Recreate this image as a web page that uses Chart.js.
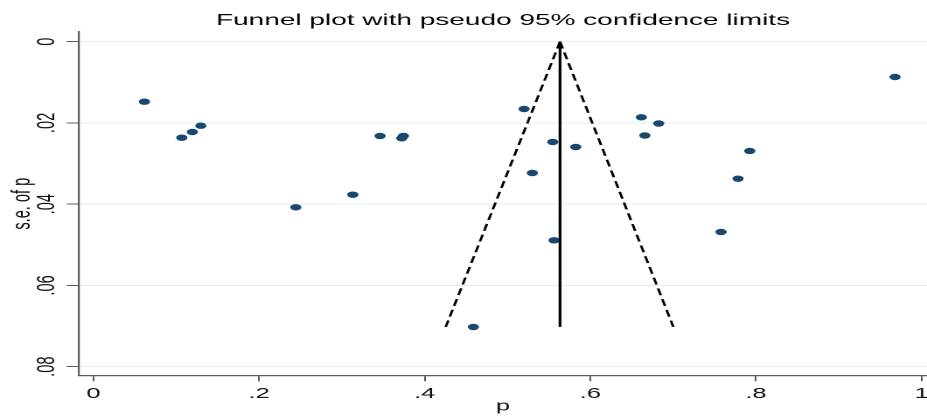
<!DOCTYPE html>
<html>
<head>
<meta charset="utf-8">
<title>Funnel plot</title>
<script src="https://cdn.jsdelivr.net/npm/chart.js@4"></script>
<style>
    html, body { margin: 0; padding: 0; background: #ffffff; overflow: hidden; }
</style>
</head>
<body>
<!-- the reference is a horizontally stretched Stata graph, so the canvas is drawn narrow and stretched -->
<canvas id="funnel" width="530" height="419" style="width:927px;height:419px"></canvas>
<script>
// study estimates
const studyP = [0.0616, 0.1067, 0.1195, 0.1297, 0.2444, 0.3132, 0.3461, 0.3723, 0.3743, 0.5200, 0.5546,
    0.5300, 0.5824, 0.5562, 0.4588, 0.6616, 0.6826, 0.6658, 0.7925, 0.7783, 0.7578, 0.9679];
const studySE = [0.01477, 0.02363, 0.02223, 0.02068, 0.04076, 0.03766, 0.02321, 0.02378, 0.02321, 0.01657, 0.02469,
    0.03232, 0.02592, 0.04889, 0.07023, 0.01861, 0.02014, 0.02309, 0.02690, 0.03372, 0.04684, 0.00869];

// pooled estimate line and pseudo 95% limits
const pooledX = [0.5634, 0.5634];
const pooledY = [0, 0.0702];
const lowerLimitX = [0.5634, 0.4254];
const upperLimitX = [0.5634, 0.7002];
const limitY = [0, 0.0702];

const xTickValues = [0, 0.2, 0.4, 0.6, 0.8, 1];
const xTickLabels = ['0', '.2', '.4', '.6', '.8', '1'];
const yTickValues = [0, 0.02, 0.04, 0.06, 0.08];
const yTickLabels = ['0', '.02', '.04', '.06', '.08'];

const toPoints = (xs, ys) => xs.map((x, i) => ({ x: x, y: ys[i] }));

Chart.defaults.font.family = 'Arial, "Liberation Sans", sans-serif';
Chart.defaults.color = '#111111';

const navy = '#1a476f';
const axisGrey = '#5c5c5c';

// fixed axis sizes, and no extra room for labels hanging over the plot edges
function fixScale(scale, size) {
    if (scale.isHorizontal()) scale.height = size;
    else scale.width = size;
    scale.paddingLeft = 0;
    scale.paddingRight = 0;
    scale.paddingTop = 0;
    scale.paddingBottom = 0;
}

const canvas = document.getElementById('funnel');
new Chart(canvas, {
    type: 'scatter',
    data: {
        datasets: [
            {
                label: 'pooled',
                data: toPoints(pooledX, pooledY),
                showLine: true,
                borderColor: '#000000',
                borderWidth: 1.6,
                pointRadius: 0
            },
            {
                label: 'lower limit',
                data: toPoints(lowerLimitX, limitY),
                showLine: true,
                borderColor: '#000000',
                borderWidth: 1.5,
                borderDash: [7, 4],
                pointRadius: 0
            },
            {
                label: 'upper limit',
                data: toPoints(upperLimitX, limitY),
                showLine: true,
                borderColor: '#000000',
                borderWidth: 1.5,
                borderDash: [7, 4],
                pointRadius: 0
            },
            {
                label: 'studies',
                data: toPoints(studyP, studySE),
                backgroundColor: navy,
                borderWidth: 0,
                pointRadius: 3.2
            }
        ]
    },
    options: {
        responsive: false,
        devicePixelRatio: 2,
        animation: false,
        layout: { padding: 0, autoPadding: false },
        plugins: {
            legend: { display: false },
            tooltip: { enabled: false },
            title: {
                display: true,
                fullSize: false,
                text: 'Funnel plot with pseudo 95% confidence limits',
                color: '#000000',
                font: { size: 16, weight: 'normal' },
                padding: { top: 11, bottom: 1.5 }
            }
        },
        scales: {
            x: {
                type: 'linear',
                min: -0.0173,
                max: 1.0065,
                afterBuildTicks: scale => { scale.ticks = xTickValues.map(v => ({ value: v })); },
                afterFit: scale => fixScale(scale, 43.3),
                ticks: {
                    callback: (value, index) => xTickLabels[index],
                    font: { size: 14.6 },
                    padding: 4,
                    maxRotation: 0
                },
                grid: {
                    drawOnChartArea: false,
                    drawTicks: true,
                    tickLength: 5.5,
                    tickColor: axisGrey,
                    tickWidth: 1
                },
                border: { display: true, color: axisGrey, width: 1.2 },
                title: {
                    display: true,
                    text: 'p',
                    font: { size: 14.6 },
                    padding: { top: 0, bottom: 3.6 }
                }
            },
            y: {
                type: 'linear',
                reverse: true,
                min: -0.00246,
                max: 0.08222,
                afterBuildTicks: scale => { scale.ticks = yTickValues.map(v => ({ value: v })); },
                afterFit: scale => fixScale(scale, 45.2),
                ticks: {
                    callback: (value, index) => yTickLabels[index],
                    font: { size: 14.6 },
                    padding: 1,
                    minRotation: 90,
                    maxRotation: 90,
                    crossAlign: 'center'
                },
                grid: {
                    color: '#e3edf0',
                    lineWidth: 1,
                    drawTicks: true,
                    tickLength: 7,
                    tickColor: axisGrey,
                    tickWidth: 1
                },
                border: { display: true, color: axisGrey, width: 1.1 },
                title: {
                    display: true,
                    text: 's.e. of p',
                    font: { size: 14.6 },
                    padding: { top: 4, bottom: 0 }
                }
            }
        }
    }
});
// keep the stretched display size in case the library touched it
canvas.style.width = '927px';
canvas.style.height = '419px';
</script>
</body>
</html>
